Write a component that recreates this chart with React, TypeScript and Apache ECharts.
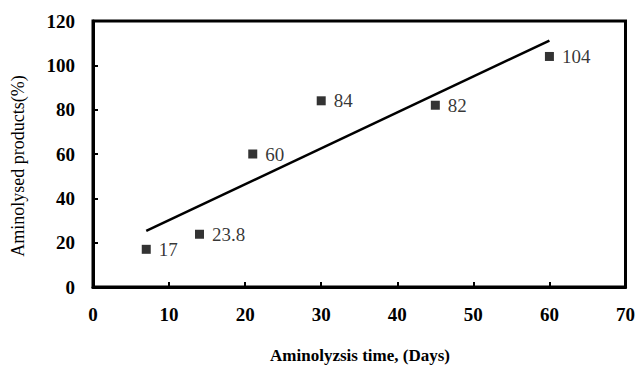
import React, { useEffect, useRef } from "react";
import * as echarts from "echarts";

const days = [7, 14, 21, 30, 45, 60];
const products = [17, 23.8, 60, 84, 82, 104];
const trendX = [7, 60];
const trendY = [25.3, 111.2];
const xTitle = "Aminolyzsis time, (Days)";
const yTitle = "Aminolysed products(%)";

const FONT = "'Liberation Serif', 'DejaVu Serif', serif";

export default function App() {
  const ref = useRef<HTMLDivElement>(null);
  useEffect(() => {
    if (!ref.current) return;
    const chart = echarts.init(ref.current, undefined, { renderer: "svg" });
    chart.setOption({
      animation: false,
      backgroundColor: "#ffffff",
      grid: {
        left: 93,
        top: 21,
        right: 11,
        bottom: 81,
        show: true,
        borderColor: "#000",
        borderWidth: 3,
        backgroundColor: "transparent",
      },
      xAxis: {
        type: "value",
        min: 0,
        max: 70,
        interval: 10,
        axisLine: { show: true, lineStyle: { color: "#000", width: 3 } },
        axisTick: { show: true, inside: true, length: 5, lineStyle: { color: "#000", width: 2 } },
        axisLabel: { color: "#000", fontFamily: FONT, fontSize: 19, fontWeight: "bold", margin: 18 },
        splitLine: { show: false },
      },
      yAxis: {
        type: "value",
        min: 0,
        max: 120,
        interval: 20,
        axisLine: { show: true, lineStyle: { color: "#000", width: 3 } },
        axisTick: { show: true, inside: true, length: 5, lineStyle: { color: "#000", width: 2 } },
        axisLabel: { color: "#000", fontFamily: FONT, fontSize: 19, fontWeight: "bold", margin: 18 },
        splitLine: { show: false },
      },
      graphic: [
        {
          type: "text",
          x: 360,
          y: 355,
          style: {
            text: xTitle,
            fill: "#000",
            font: `bold 17px ${FONT}`,
            textAlign: "center",
            textVerticalAlign: "middle",
          },
        },
        {
          type: "text",
          x: 18,
          y: 166,
          rotation: Math.PI / 2,
          style: {
            text: yTitle,
            fill: "#000",
            font: `18px ${FONT}`,
            textAlign: "center",
            textVerticalAlign: "middle",
          },
        },
      ],
      series: [
        {
          type: "line",
          data: trendX.map((x, i) => [x, trendY[i]]),
          showSymbol: false,
          symbol: "none",
          lineStyle: { color: "#000", width: 2.5 },
          silent: true,
          z: 2,
        },
        {
          type: "scatter",
          data: days.map((d, i) => [d, products[i]]),
          symbol: "rect",
          symbolSize: 9,
          itemStyle: { color: "#000" },
          label: {
            show: true,
            position: "right",
            distance: 8,
            color: "#000",
            fontFamily: FONT,
            fontSize: 19,
            formatter: (p: any) => String(p.value[1]),
          },
          z: 3,
        },
      ],
    });
    return () => chart.dispose();
  }, []);
  return <div ref={ref} style={{ width: 638, height: 368, position: "absolute", left: 0, top: 0 }} />;
}
